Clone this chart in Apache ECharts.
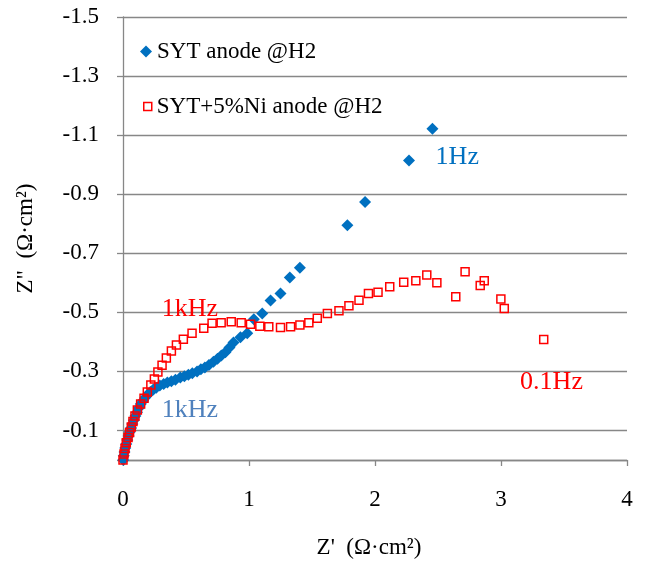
<!DOCTYPE html>
<html>
<head>
<meta charset="utf-8">
<script src="https://cdn.jsdelivr.net/npm/echarts@6/dist/echarts.min.js"></script>
<style>
html,body{margin:0;padding:0;background:#fff;}
#main{width:645px;height:567px;}
</style>
</head>
<body>
<div id="main"></div>
<script>
// SYT anode @H2 (Z' , Z'')
var sytZre = [0.002,0.006,0.012,0.018,0.026,0.034,0.044,0.053,0.064,0.074,0.086,0.098,0.111,0.126,0.141,0.159,0.177,0.197,0.217,0.241,
	0.264,0.292,0.323,0.352,0.384,0.416,0.455,0.487,0.519,0.550,0.588,0.618,0.650,0.682,0.718,0.750,0.781,0.813,0.845,0.877,
	0.932,0.986,1.038,1.105,1.171,1.250,1.324,1.404,1.781,1.921,2.270,2.456];
var sytZim = [0.000,-0.014,-0.027,-0.041,-0.054,-0.068,-0.081,-0.095,-0.108,-0.122,-0.135,-0.149,-0.162,-0.176,-0.190,-0.201,-0.212,-0.222,-0.230,-0.239,
	-0.245,-0.252,-0.257,-0.262,-0.267,-0.272,-0.279,-0.284,-0.289,-0.294,-0.300,-0.307,-0.313,-0.322,-0.333,-0.343,-0.354,-0.365,-0.381,-0.398,
	-0.416,-0.429,-0.477,-0.496,-0.540,-0.564,-0.618,-0.651,-0.795,-0.874,-1.014,-1.122];

// SYT+5%Ni anode @H2 (Z' , Z'')
var niZre = [0.000,0.008,0.016,0.026,0.040,0.052,0.066,0.079,0.095,0.114,0.140,0.167,0.193,0.221,0.249,0.277,0.310,0.344,0.384,0.424,
	0.479,0.548,0.641,0.707,0.779,0.859,0.938,1.012,1.086,1.157,1.250,1.330,1.404,1.475,1.542,1.622,1.714,1.793,1.873,1.948,
	2.024,2.117,2.228,2.324,2.411,2.491,2.641,2.715,2.835,2.867,2.999,3.026,3.339];
var niZim = [0.000,-0.020,-0.039,-0.058,-0.076,-0.093,-0.112,-0.130,-0.149,-0.169,-0.190,-0.209,-0.230,-0.254,-0.274,-0.298,-0.321,-0.345,-0.369,-0.389,
	-0.409,-0.429,-0.446,-0.463,-0.465,-0.468,-0.465,-0.460,-0.453,-0.451,-0.449,-0.451,-0.457,-0.465,-0.480,-0.496,-0.505,-0.522,-0.541,-0.564,
	-0.568,-0.587,-0.602,-0.607,-0.626,-0.600,-0.553,-0.637,-0.591,-0.607,-0.545,-0.513,-0.408];

var seriesNames = ['SYT anode @H2', 'SYT+5%Ni anode @H2'];
var xAxisTitle = "Z'  (Ω·cm²)";
var yAxisTitle = 'Z"  (Ω·cm²)';

var fontFamily = "'Liberation Serif','Times New Roman',serif";
var gridGray = '#878787';

/**
 * 把两个数组拼成散点数据
 */
function toPairs(xs, ys){
	var out = [];
	for (var i = 0; i < xs.length; i++) {
		out.push([xs[i], ys[i]]);
	}
	return out;
}

var chart = echarts.init(document.getElementById('main'));

var option = {
	backgroundColor: '#fff',
	animation: false,
	textStyle: { fontFamily: fontFamily },
	grid: { left: 123, right: 18, top: 17, bottom: 107 },
	legend: [{
		data: [{ name: seriesNames[0], icon: 'diamond', itemStyle: { color: '#0070C0', opacity: 1 } }],
		orient: 'vertical',
		left: 140, top: 40, padding: 0,
		itemWidth: 12, itemHeight: 12,
		textStyle: { fontFamily: fontFamily, fontSize: 23, color: '#000' }
	}, {
		data: [{ name: seriesNames[1], icon: 'rect', itemStyle: { color: 'rgba(0,0,0,0)', borderColor: '#FF0000', borderWidth: 1.5, opacity: 1 } }],
		orient: 'vertical',
		left: 143, top: 95, padding: 0,
		itemWidth: 8, itemHeight: 8,
		textStyle: { fontFamily: fontFamily, fontSize: 23, color: '#000' }
	}],
	xAxis: {
		type: 'value',
		min: 0, max: 4, interval: 1,
		name: xAxisTitle,
		nameLocation: 'middle',
		nameGap: 76,
		nameTextStyle: { fontFamily: fontFamily, fontSize: 23, color: '#000', padding: [0, 12, 0, 0] },
		axisLine: { lineStyle: { color: gridGray, width: 1.3 } },
		axisTick: { show: true, inside: false, length: 6, lineStyle: { color: gridGray, width: 1.3 } },
		axisLabel: { fontFamily: fontFamily, fontSize: 23, color: '#000', margin: 28 },
		splitLine: { show: false }
	},
	yAxis: {
		type: 'value',
		inverse: true,
		min: -1.5, max: 0, interval: 0.2,
		name: yAxisTitle,
		nameLocation: 'middle',
		nameGap: 86,
		nameTextStyle: { fontFamily: fontFamily, fontSize: 23, color: '#000' },
		axisLine: { show: true, lineStyle: { color: gridGray, width: 1.3 } },
		axisTick: { show: true, inside: false, length: 6, lineStyle: { color: gridGray, width: 1.3 } },
		axisLabel: {
			fontFamily: fontFamily, fontSize: 23, color: '#000', margin: 24,
			formatter: function(v){
				if (Math.abs(v) < 1e-9) return '';
				return v.toFixed(1);
			}
		},
		splitLine: { show: true, lineStyle: { color: gridGray, width: 1.3 } }
	},
	series: [{
		name: seriesNames[0],
		type: 'scatter',
		symbol: 'diamond',
		symbolSize: 12,
		itemStyle: { color: '#0070C0', opacity: 1 },
		data: toPairs(sytZre, sytZim),
		z: 2
	}, {
		name: seriesNames[1],
		type: 'scatter',
		symbol: 'rect',
		symbolSize: 8,
		itemStyle: { color: 'rgba(0,0,0,0)', borderColor: '#FF0000', borderWidth: 1.5, opacity: 1 },
		data: toPairs(niZre, niZim),
		z: 3
	}]
};
chart.setOption(option);

// 频率标注,按数据坐标定位
var notes = [
	{ text: '1Hz', at: [2.653, -1.025], color: '#0070C0' },
	{ text: '1kHz', at: [0.531, -0.511], color: '#FF0000' },
	{ text: '1kHz', at: [0.531, -0.169], color: '#4F81BD' },
	{ text: '0.1Hz', at: [3.401, -0.264], color: '#FF0000' }
];
var graphics = [];
for (var i = 0; i < notes.length; i++) {
	var p = chart.convertToPixel({ gridIndex: 0 }, notes[i].at);
	graphics.push({
		type: 'text',
		x: p[0], y: p[1],
		style: {
			text: notes[i].text,
			fill: notes[i].color,
			font: '26px ' + fontFamily,
			align: 'center',
			verticalAlign: 'middle'
		},
		z: 10
	});
}
chart.setOption({ graphic: graphics });
</script>
</body>
</html>
